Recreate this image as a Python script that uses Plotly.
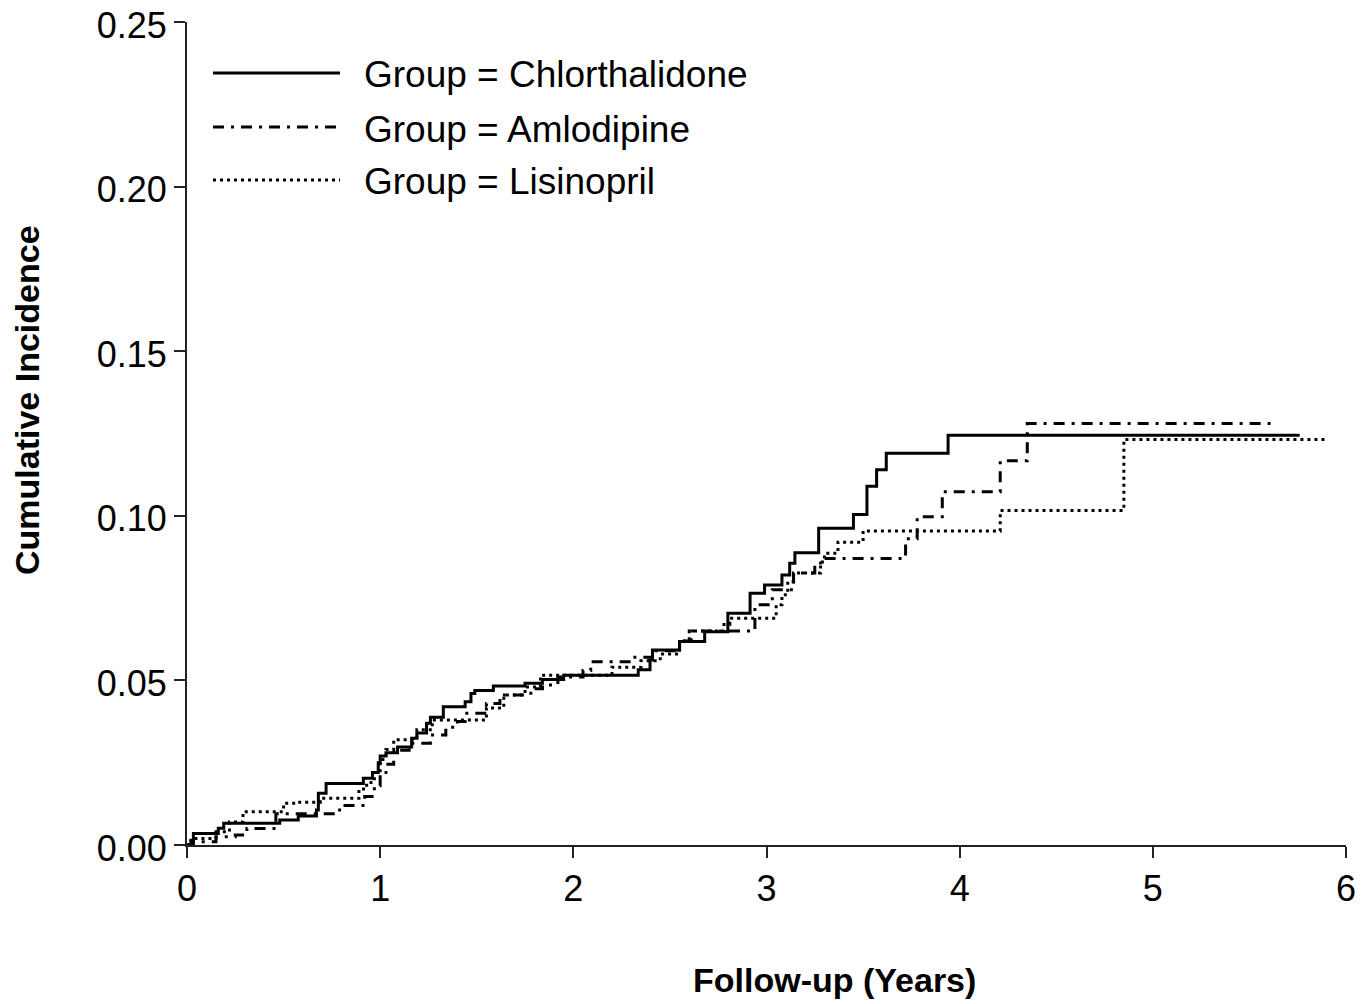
import plotly.graph_objects as go

# ---------------- data ----------------
x_ticks = [0, 1, 2, 3, 4, 5, 6]
y_ticks = [0.00, 0.05, 0.10, 0.15, 0.20, 0.25]
group_names = ["Chlorthalidone", "Amlodipine", "Lisinopril"]
x_title = "Follow-up (Years)"
y_title = "Cumulative Incidence"

chl_t = [0, 0.033, 0.162, 0.19, 0.48, 0.576, 0.67, 0.68, 0.72, 0.913, 0.96, 0.99,
         1.00, 1.03, 1.09, 1.163, 1.19, 1.24, 1.26, 1.327, 1.44, 1.47, 1.49, 1.586,
         1.75, 1.84, 1.95, 2.336, 2.397, 2.41, 2.55, 2.68, 2.80, 2.915, 2.99, 3.08,
         3.12, 3.147, 3.27, 3.45, 3.52, 3.57, 3.62, 3.94, 5.76]
chl_v = [0, 0.0035, 0.0051, 0.0066, 0.0076, 0.0088, 0.0106, 0.0157, 0.0187, 0.0203, 0.022, 0.025,
         0.027, 0.028, 0.0298, 0.0324, 0.034, 0.037, 0.0388, 0.042, 0.0435, 0.046, 0.0469, 0.0483,
         0.0491, 0.0503, 0.0516, 0.0532, 0.0562, 0.0592, 0.0618, 0.0648, 0.0704, 0.0765, 0.079, 0.082,
         0.0856, 0.0888, 0.0962, 0.1004, 0.109, 0.114, 0.119, 0.1245, 0.1245]

aml_t = [0, 0.02, 0.15, 0.25, 0.31, 0.46, 0.79, 0.92, 0.97, 1.00, 1.03, 1.07,
         1.15, 1.26, 1.34, 1.40, 1.44, 1.55, 1.62, 1.78, 1.84, 1.92, 2.05, 2.09,
         2.30, 2.41, 2.55, 2.61, 2.94, 3.03, 3.14, 3.25, 3.28, 3.72, 3.78, 3.91,
         4.21, 4.35, 5.62]
aml_v = [0, 0.001, 0.0025, 0.003, 0.005, 0.0095, 0.012, 0.0147, 0.018, 0.022, 0.0245, 0.0288,
         0.0309, 0.0334, 0.0358, 0.0375, 0.040, 0.043, 0.0456, 0.0475, 0.0486, 0.051, 0.053, 0.0557,
         0.057, 0.059, 0.062, 0.065, 0.073, 0.0775, 0.0826, 0.085, 0.087, 0.093, 0.0997, 0.1073,
         0.1167, 0.128, 0.128]

lis_t = [0, 0.02, 0.15, 0.22, 0.29, 0.50, 0.57, 0.69, 0.89, 0.93, 0.97, 1.00,
         1.03, 1.07, 1.19, 1.27, 1.55, 1.64, 1.75, 1.83, 2.20, 2.35, 2.45, 2.55,
         2.60, 2.78, 2.81, 3.05, 3.08, 3.11, 3.14, 3.28, 3.30, 3.37, 3.50, 4.21,
         4.85, 5.89]
lis_v = [0, 0.002, 0.004, 0.007, 0.0101, 0.0127, 0.013, 0.0142, 0.017, 0.019, 0.022, 0.026,
         0.029, 0.032, 0.035, 0.038, 0.0416, 0.0456, 0.048, 0.0516, 0.054, 0.056, 0.058, 0.062,
         0.065, 0.067, 0.0689, 0.073, 0.076, 0.080, 0.0826, 0.086, 0.0886, 0.092, 0.0954, 0.1016,
         0.1232, 0.1232]

# ---------------- styling ----------------
FONT = "Liberation Sans, Arial, sans-serif"
W, H = 1372, 1004
L, R, T, B = 187, 26, 22, 159
styles = ["solid", "11px,7px,3px,7px", "3px,4px"]

series = [(chl_t, chl_v), (aml_t, aml_v), (lis_t, lis_v)]

fig = go.Figure()
for (t, v), name, dash in zip(series, group_names, styles):
    fig.add_trace(go.Scatter(
        x=t, y=v, mode="lines", name="Group = " + name,
        line=dict(color="black", width=3, dash=dash, shape="hv"),
        showlegend=False,
    ))

# pixel -> paper helpers for layout-only placement
def px_to_paper_x(px):
    return (px - L) / (W - L - R)

def px_to_paper_y(py):
    return (H - B - py) / (H - B - T)

# manual legend (line samples + text)
leg_line_y = [73, 127, 180]
leg_text_y = [75, 129, 182]
for name, dash, ly, ty in zip(group_names, styles, leg_line_y, leg_text_y):
    fig.add_shape(type="line", xref="paper", yref="paper",
                  x0=px_to_paper_x(213), x1=px_to_paper_x(340),
                  y0=px_to_paper_y(ly), y1=px_to_paper_y(ly),
                  line=dict(color="black", width=3, dash=dash))
    fig.add_annotation(xref="paper", yref="paper",
                       x=px_to_paper_x(362), y=px_to_paper_y(ty),
                       xanchor="left", yanchor="middle", showarrow=False,
                       text="Group = " + name,
                       font=dict(family=FONT, size=37, color="black"))

# axis titles (placed where the reference has them)
title_font = dict(family=FONT, size=34, color="black", weight="bold")
fig.add_annotation(xref="paper", yref="paper",
                   x=px_to_paper_x(834), y=px_to_paper_y(980),
                   xanchor="center", yanchor="middle", showarrow=False,
                   text=x_title, font=title_font)
fig.add_annotation(xref="paper", yref="paper",
                   x=px_to_paper_x(27), y=px_to_paper_y(400),
                   xanchor="center", yanchor="middle", showarrow=False,
                   textangle=-90, text=y_title, font=title_font)

axis_common = dict(
    showgrid=False, zeroline=False, showline=True, linecolor="#222", linewidth=2,
    ticks="outside", ticklen=11, tickwidth=2, tickcolor="#222",
    tickfont=dict(family=FONT, size=36, color="black"),
    ticklabeloverflow="allow",
    automargin=False,
)

fig.update_layout(
    width=W, height=H,
    margin=dict(l=L, r=R, t=T, b=B),
    plot_bgcolor="white", paper_bgcolor="white",
    xaxis=dict(range=[0, 6], tickvals=x_ticks, ticktext=[str(v) for v in x_ticks],
               **axis_common),
    yaxis=dict(range=[0, 0.25], tickvals=y_ticks, ticktext=[f"{v:.2f}" for v in y_ticks],
               ticklabelshift=3,
               **axis_common),
)

fig.write_html("out.html",
               config={"displayModeBar": False},
               post_script="document.body.style.margin='0';document.body.style.overflow='hidden';")
